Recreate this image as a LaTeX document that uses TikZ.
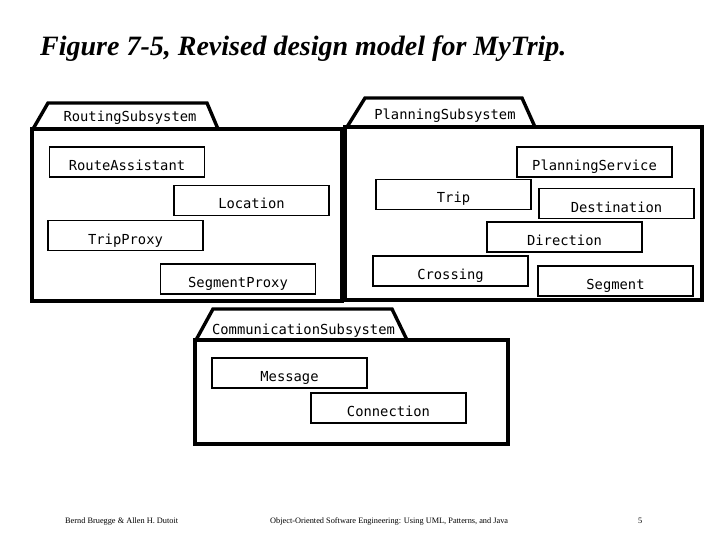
\documentclass[tikz,border=0pt]{standalone}
\usepackage{fontspec}
\setmainfont{Liberation Serif}
\newfontfamily\classfont{DejaVu Sans Mono}
\usepackage{tikz}

\tikzset{
  classbox/.style={draw, line width=1.6pt, minimum width=155pt, minimum height=30pt,
    inner sep=0pt, text height=17pt, text depth=0pt, font=\classfont\fontsize{13.8}{14}\selectfont},
  pkgline/.style={line width=3.4pt, line join=miter},
  pkglabel/.style={anchor=base, inner sep=0pt, font=\classfont\fontsize{13.8}{14}\selectfont}
}

\begin{document}
\begin{tikzpicture}[x=1pt, y=-1pt]
    \useasboundingbox (0,0) rectangle (720,540);
    % Title
    \node[anchor=base west, inner sep=0pt, font=\fontsize{28}{30}\selectfont\bfseries\itshape] (title) at (40,56) {Figure 7-5, Revised design model for MyTrip.};

    % Routing subsystem
    \draw[pkgline] (32,129) rectangle (342,301);
    \draw[pkgline] (33,129) -- (48,103) -- (207,103) -- (218,129);
    \node[pkglabel] (routing) at (130,122) {RoutingSubsystem};
    \node[classbox] (assistant) at (127,162) {RouteAssistant};
    \node[classbox] (location) at (251.5,200.5) {Location};
    \node[classbox] (tripproxy) at (125.5,235.5) {TripProxy};
    \node[classbox] (segproxy) at (238,279) {SegmentProxy};

    % Planning subsystem
    \draw[pkgline] (345,127) rectangle (702,300);
    \draw[pkgline] (347,127) -- (365,98) -- (522,98) -- (535,127);
    \node[pkglabel] (planning) at (445,120) {PlanningSubsystem};
    \node[classbox] (service) at (594.5,162) {PlanningService};
    \node[classbox] (trip) at (453.5,194.5) {Trip};
    \node[classbox] (destination) at (616.5,203.5) {Destination};
    \node[classbox] (direction) at (564.5,237) {Direction};
    \node[classbox] (crossing) at (450.5,271) {Crossing};
    \node[classbox] (segment) at (615.5,281) {Segment};

    % Communication subsystem
    \draw[pkgline] (195,340) rectangle (508,444);
    \draw[pkgline] (196,340) -- (213,309) -- (392,309) -- (407,340);
    \node[pkglabel] (comm) at (303.5,334) {CommunicationSubsystem};
    \node[classbox] (message) at (289.5,373) {Message};
    \node[classbox] (connection) at (388.5,408) {Connection};

    % Footer
    \node[anchor=base west, inner sep=0pt, font=\fontsize{8.3}{9}\selectfont] (authors) at (65,523) {Bernd Bruegge \& Allen H. Dutoit};
    \node[anchor=base west, inner sep=0pt, font=\fontsize{8.3}{9}\selectfont] (book) at (270,523) {Object-Oriented Software Engineering: Using UML, Patterns, and Java};
    \node[anchor=base west, inner sep=0pt, font=\fontsize{8.3}{9}\selectfont] (page) at (638,523) {5};
\end{tikzpicture}
\end{document}
